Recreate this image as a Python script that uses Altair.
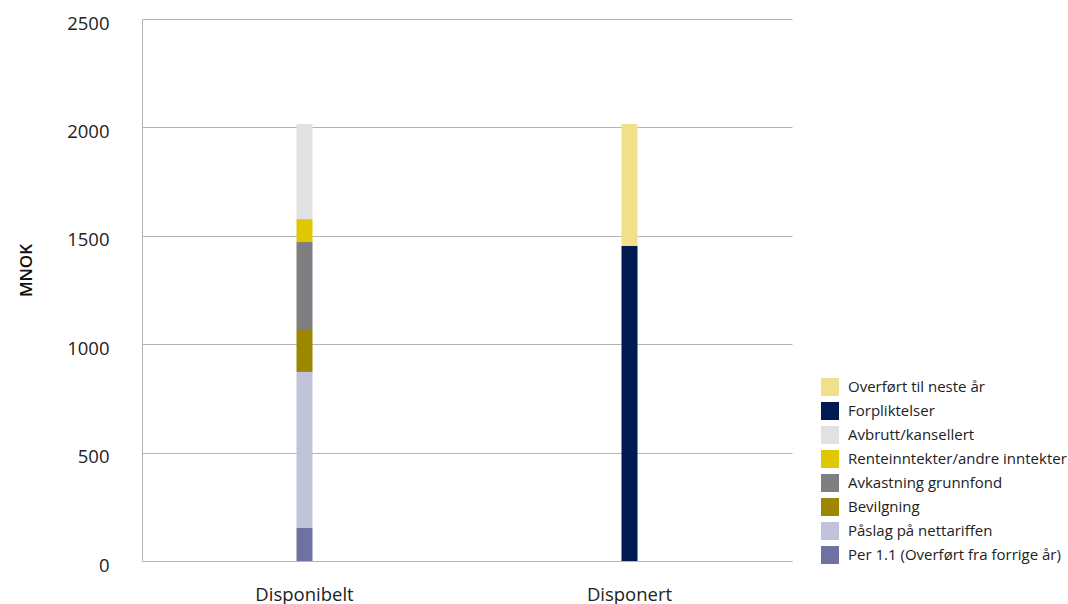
import altair as alt
import pandas as pd

# Bar categories, stacked segments and their values (MNOK)
kolonner = ["Disponibelt", "Disponibelt", "Disponibelt", "Disponibelt", "Disponibelt", "Disponibelt",
            "Disponert", "Disponert"]
poster = ["Per 1.1 (Overført fra forrige år)", "Påslag på nettariffen", "Bevilgning",
          "Avkastning grunnfond", "Renteinntekter/andre inntekter", "Avbrutt/kansellert",
          "Forpliktelser", "Overført til neste år"]
belop = [154, 718, 198, 401, 106, 439, 1453, 563]
stabling = [1, 2, 3, 4, 5, 6, 1, 2]

# Legend order (top to bottom) and matching colours
legend_rekkefolge = ["Overført til neste år", "Forpliktelser", "Avbrutt/kansellert",
                     "Renteinntekter/andre inntekter", "Avkastning grunnfond", "Bevilgning",
                     "Påslag på nettariffen", "Per 1.1 (Overført fra forrige år)"]
farger = ["#f0e08c", "#001a52", "#e1e1e3", "#e0c800", "#7e7e83", "#9c8700", "#c0c3d9", "#6e72a2"]

y_ticks = [0, 500, 1000, 1500, 2000, 2500]

df = pd.DataFrame({"kolonne": kolonner, "post": poster, "belop": belop, "stabling": stabling})

FONT = "Open Sans"
GRID = "#b3b3b3"

chart = alt.Chart(df).mark_bar(size=16).encode(
    x=alt.X("kolonne:N", sort=["Disponibelt", "Disponert"],
            scale=alt.Scale(paddingInner=0, paddingOuter=0),
            axis=alt.Axis(title=None, labelAngle=0, ticks=False, domain=True,
                          domainColor=GRID, labelFontSize=18.5, labelColor="#222222",
                          labelFont=FONT, labelPadding=24)),
    y=alt.Y("sum(belop):Q", stack="zero",
            scale=alt.Scale(domain=[0, 2500], nice=False),
            axis=alt.Axis(title="MNOK", values=y_ticks, format="d", ticks=False,
                          domainColor=GRID, gridColor=GRID, gridWidth=1,
                          labelFontSize=18.5, labelFont=FONT,
                          labelColor="#222222", labelPadding=33, labelOffset=4,
                          titleFont=FONT, titleFontSize=17, titleFontWeight=600,
                          titleColor="#111111", titleX=-116, titleY=251,
                          titleBaseline="middle")),
    color=alt.Color("post:N",
                    scale=alt.Scale(domain=legend_rekkefolge, range=farger),
                    legend=alt.Legend(title=None, orient="none", legendX=679, legendY=359,
                                      symbolType="square", symbolSize=324,
                                      symbolStrokeWidth=0, labelFont=FONT,
                                      labelFontSize=15, labelColor="#222222",
                                      labelLimit=300, labelOffset=9, rowPadding=6)),
    order=alt.Order("stabling:Q", sort="ascending"),
).properties(
    width=650,
    height=542,
    autosize=alt.AutoSizeParams(type="none"),
    padding={"left": 142, "top": 19, "right": 276, "bottom": 43},
    background="white",
).configure_view(stroke=None)

chart.save("out.html", embed_options={"renderer": "svg", "actions": False})
